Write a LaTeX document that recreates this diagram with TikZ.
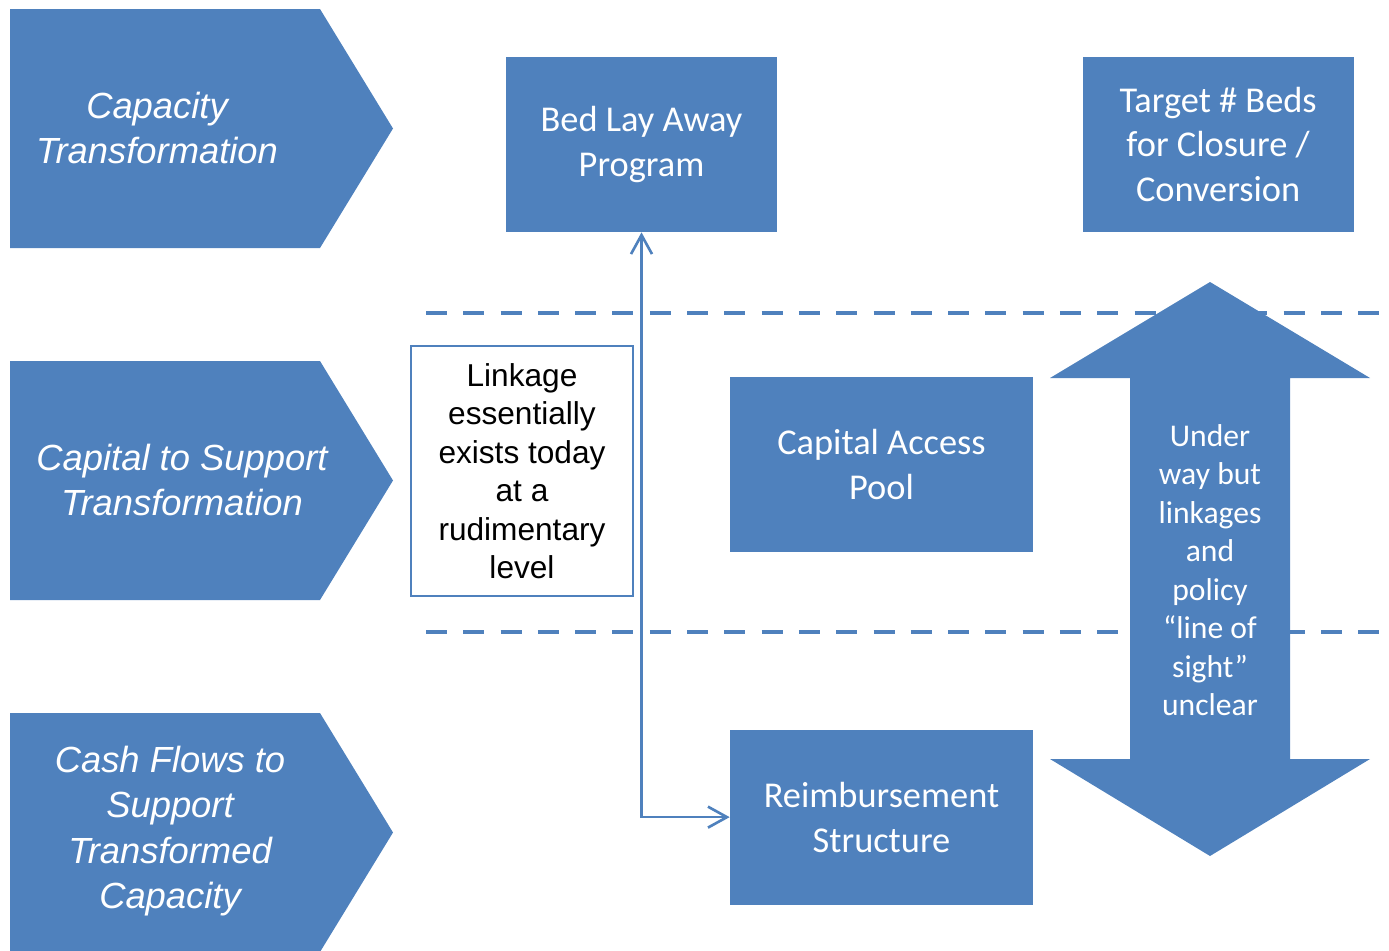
\documentclass[tikz,border=0pt]{standalone}
\usepackage{fontspec}
\usetikzlibrary{arrows.meta, positioning}
\setmainfont{Liberation Sans}
\newfontfamily\carlito{Carlito}
\definecolor{Office}{HTML}{4F81BD}

\begin{document}
\begin{tikzpicture}[
      x=0.02cm, y=-0.02cm,
      stage/.style={fill=Office},
      stagetext/.style={font=\fontsize{20.7}{25.8}\selectfont\itshape, text=white, align=center},
      block/.style={fill=Office, minimum height=3.5cm, inner sep=2pt, align=center,
                    text=white, font=\carlito\fontsize{20.7}{25.5}\selectfont},
      note/.style={draw=Office, fill=white, line width=1.1pt, minimum width=4.44cm,
                   minimum height=5cm, align=center, font=\fontsize{18}{21.9}\selectfont},
      lane/.style={draw=Office, line width=2.8pt, dash pattern=on 0.42cm off 0.326cm},
      link/.style={draw=Office, line width=1.5pt,
                   {Straight Barb[length=0.38cm,width=0.42cm]}-{Straight Barb[length=0.38cm,width=0.42cm]}},
      bigarrow/.style={fill=Office},
      arrowtext/.style={font=\carlito\fontsize{18}{21.9}\selectfont, text=white, align=center}
    ]

    \useasboundingbox (0,0) rectangle (1389,950);

    % stage chevrons down the left side
    \foreach \yy in {9,361,713}
      \fill[stage] (10,\yy) -- (320,\yy) -- (393,\yy+119.5) -- (320,\yy+239) -- (10,\yy+239) -- cycle;

    \node[stagetext] (capacity) at (157,128) {Capacity\\Transformation};
    \node[stagetext] (capital)  at (182,480) {Capital to Support\\Transformation};
    \node[stagetext] (cash)     at (170,831) {Cash Flows to\\Support\\Transformed\\Capacity};

    % lane separators
    \draw[lane] (426,313) -- (1380,313);
    \draw[lane] (426,632) -- (1380,632);

    \node[block, minimum width=5.42cm]                    (bed)    at (641.5,144.5) {Bed Lay Away\\Program};
    \node[block, minimum width=5.42cm, right=6.1cm of bed] (target) {Target \# Beds\\for Closure /\\Conversion};
    \node[block, minimum width=6.06cm]                    (pool)   at (881.5,464.5) {Capital Access\\Pool};
    \node[block, minimum width=6.06cm, below=3.54cm of pool] (reimb) {Reimbursement\\Structure};

    \node[note] (linkage) at (522,471) {Linkage\\essentially\\exists today\\at a\\rudimentary\\level};

    \draw[link] (bed.south) |- (reimb.west);

    % two-headed arrow on the right
    \fill[bigarrow] (1210,282) -- (1370,378) -- (1290,378) -- (1290,759) -- (1370,759)
      -- (1210,856) -- (1050,759) -- (1130,759) -- (1130,378) -- (1050,378) -- cycle;
    \node[arrowtext] (sight) at (1210,570) {Under\\way but\\linkages\\and\\policy\\“line of\\sight”\\unclear};

  \end{tikzpicture}
\end{document}
